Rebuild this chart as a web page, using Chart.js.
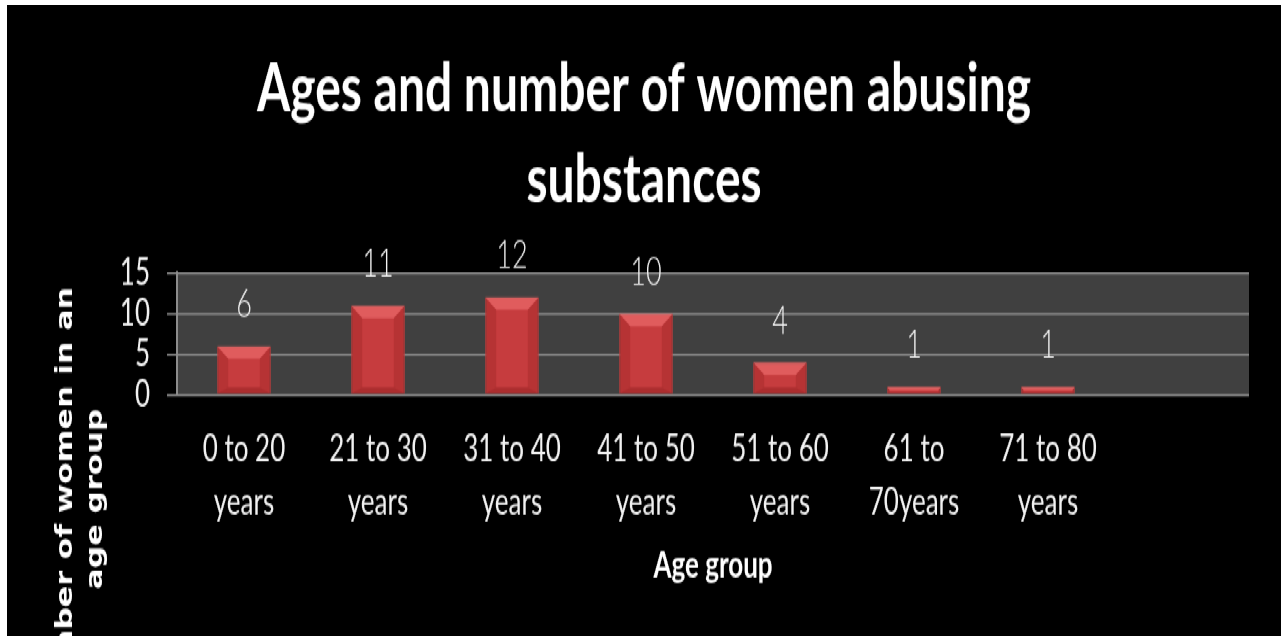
<!DOCTYPE html>
<html>
<head>
  <title>Ages and number of women abusing substances</title>
  <script src="https://cdn.jsdelivr.net/npm/chart.js"></script>
  <style>
    html, body { margin: 0; padding: 0; background: #ffffff; overflow: hidden; }
    #chartBox {
      position: absolute;
      left: 7px;
      top: 5px;
      width: 1274px;
      height: 451px;
      background: #000000;
      /* исходная картинка растянута по вертикали */
      transform: scaleY(1.4);
      transform-origin: 0 0;
    }
  </style>
</head>
<body>
<div id="chartBox">
  <canvas id="ageChart" width="1274" height="451"></canvas>
</div>

<script>
  // данные
  const titleLines = ['Ages and number of women abusing', 'substances'];
  const ageGroups = [['0 to 20', 'years'], ['21 to 30', 'years'], ['31 to 40', 'years'], ['41 to 50', 'years'],
    ['51 to 60', 'years'], ['61 to', '70years'], ['71 to 80', 'years'], ''];
  const womenCounts = [6, 11, 12, 10, 4, 1, 1, null];
  const yTicks = [0, 5, 10, 15];
  const xTitle = 'Age group';
  const yTitleLines = ['Number of women in an', 'age group'];

  const face = "Lato, 'Open Sans', 'Liberation Sans', sans-serif";

  // тёмный фон области графика
  const plotBackground = {
    id: 'plotBackground',
    beforeDraw(chart) {
      const a = chart.chartArea;
      const ctx = chart.ctx;
      ctx.save();
      ctx.fillStyle = '#404040';
      ctx.fillRect(a.left, a.top, a.right - a.left, a.bottom - a.top);
      ctx.restore();
    }
  };

  // объёмный вид столбиков + подписи значений
  const barExtras = {
    id: 'barExtras',
    afterDatasetsDraw(chart) {
      const ctx = chart.ctx;
      const meta = chart.getDatasetMeta(0);
      ctx.save();
      meta.data.forEach((bar, i) => {
        const v = womenCounts[i];
        if (v === null) return;
        const left = bar.x - bar.width / 2;
        const right = bar.x + bar.width / 2;
        const top = bar.y;
        const bottom = bar.base;
        const h = bottom - top;
        const b = Math.min(11, h / 2);   // по горизонтали
        const bv = Math.min(9, h / 2);   // по вертикали

        // верхняя грань светлее
        ctx.fillStyle = 'rgba(255,130,130,0.45)';
        ctx.beginPath();
        ctx.moveTo(left, top);
        ctx.lineTo(right, top);
        ctx.lineTo(right - b, top + bv);
        ctx.lineTo(left + b, top + bv);
        ctx.closePath();
        ctx.fill();

        // боковые грани темнее
        ctx.fillStyle = 'rgba(110,10,10,0.18)';
        ctx.beginPath();
        ctx.moveTo(left, top);
        ctx.lineTo(left + b, top + bv);
        ctx.lineTo(left + b, bottom - bv / 2);
        ctx.lineTo(left, bottom);
        ctx.closePath();
        ctx.fill();
        ctx.beginPath();
        ctx.moveTo(right, top);
        ctx.lineTo(right - b, top + bv);
        ctx.lineTo(right - b, bottom - bv / 2);
        ctx.lineTo(right, bottom);
        ctx.closePath();
        ctx.fill();

        ctx.fillStyle = 'rgba(90,0,0,0.25)';
        ctx.beginPath();
        ctx.moveTo(left, bottom);
        ctx.lineTo(right, bottom);
        ctx.lineTo(right - b, bottom - bv / 2);
        ctx.lineTo(left + b, bottom - bv / 2);
        ctx.closePath();
        ctx.fill();

        // подпись значения
        ctx.fillStyle = '#f2f2f2';
        ctx.font = '300 27px ' + face;
        ctx.textAlign = 'center';
        ctx.textBaseline = 'middle';
        ctx.fillText(String(v), bar.x, top - 29.5);
      });
      ctx.restore();
    }
  };

  // подпись оси Y (повёрнутая, две строки)
  const yAxisTitle = {
    id: 'yAxisTitle',
    afterDraw(chart) {
      const ctx = chart.ctx;
      ctx.save();
      ctx.fillStyle = '#ffffff';
      ctx.font = "bold 22.5px 'DejaVu Sans', Verdana, sans-serif";
      ctx.textAlign = 'center';
      ctx.textBaseline = 'alphabetic';
      const baselines = [65, 95];
      yTitleLines.forEach((line, i) => {
        ctx.save();
        ctx.translate(baselines[i], 353);
        ctx.rotate(-Math.PI / 2);
        ctx.fillText(line, 0, 0);
        ctx.restore();
      });
      ctx.restore();
    }
  };

  const ctx = document.getElementById('ageChart').getContext('2d');
  const ageChart = new Chart(ctx, {
    type: 'bar',
    data: {
      labels: ageGroups,
      datasets: [{
        label: 'Number of women',
        data: womenCounts,
        backgroundColor: '#c63c3e',
        borderColor: '#d44a4a',
        borderWidth: 1,
        barPercentage: 0.4,
        categoryPercentage: 1
      }]
    },
    options: {
      responsive: false,
      devicePixelRatio: 1,
      animation: false,
      layout: {
        padding: { left: 32, right: 32, top: 0, bottom: 34.6 }
      },
      plugins: {
        legend: { display: false },
        tooltip: { enabled: false },
        title: {
          display: true,
          text: titleLines,
          color: '#ffffff',
          font: { family: face, size: 48, weight: 'bold', lineHeight: '64.3px' },
          padding: { top: 28.6, bottom: 34.2 }
        }
      },
      scales: {
        x: {
          afterFit(scale) { scale.height = 137.8; },
          grid: { display: false, drawTicks: false },
          border: { display: false },
          ticks: {
            color: '#f2f2f2',
            font: { family: face, size: 26, lineHeight: 1.45 },
            padding: 20.4,
            maxRotation: 0,
            autoSkip: false
          },
          title: {
            display: true,
            text: xTitle,
            color: '#ffffff',
            font: { family: face, size: 26, weight: 'bold', lineHeight: 1.2 },
            padding: { top: 10, bottom: 0 }
          }
        },
        y: {
          min: 0,
          max: 15,
          afterFit(scale) { scale.width = 138; },
          afterBuildTicks(scale) { scale.ticks = yTicks.map(v => ({ value: v })); },
          grid: {
            color: '#8c8c8c',
            lineWidth: 1.5,
            drawTicks: true,
            tickLength: 10
          },
          border: { display: true, color: '#8c8c8c', width: 2 },
          ticks: {
            color: '#f2f2f2',
            font: { family: face, size: 26 },
            padding: 17,
            autoSkip: false
          },
          title: { display: false }
        }
      }
    },
    plugins: [plotBackground, barExtras, yAxisTitle]
  });
</script>
</body>
</html>
